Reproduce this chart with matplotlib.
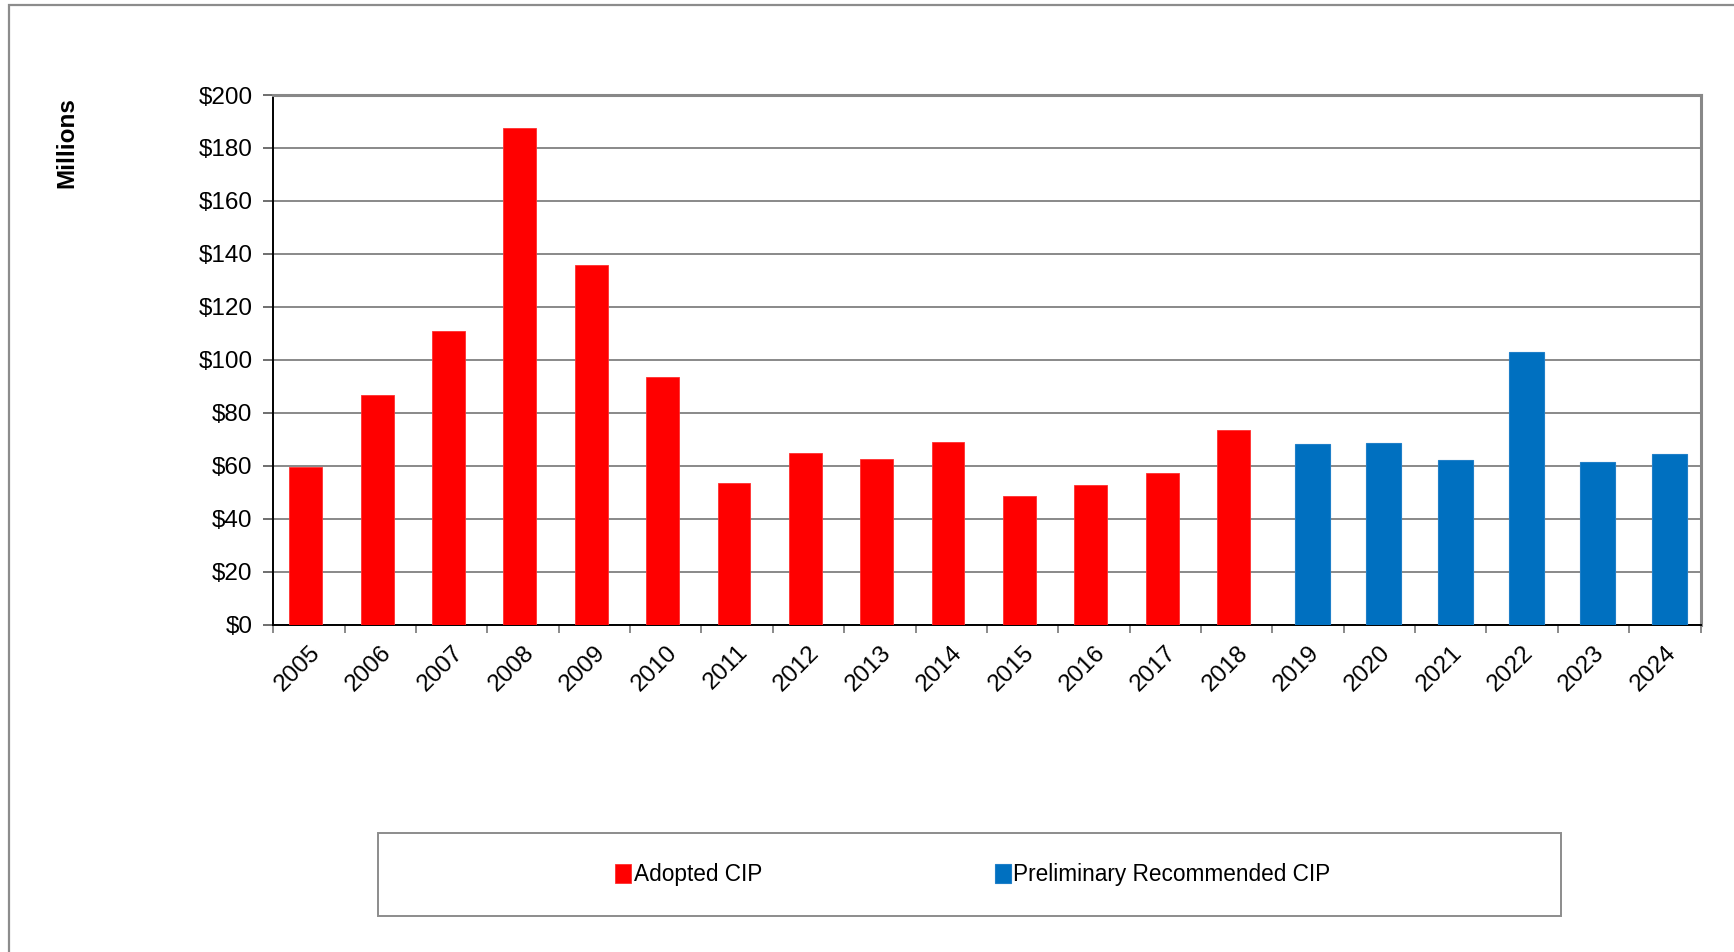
import matplotlib.pyplot as plt
import matplotlib.patches as mpatches
import numpy as np

plt.rcParams['font.family'] = ['Liberation Sans', 'DejaVu Sans']

adopted_years = ['2005', '2006', '2007', '2008', '2009', '2010', '2011',
                 '2012', '2013', '2014', '2015', '2016', '2017', '2018']
adopted_values = [59.5, 86.8, 111.0, 187.5, 135.7, 93.5, 53.5,
                  64.7, 62.6, 68.9, 48.5, 52.6, 57.2, 73.7]
prelim_years = ['2019', '2020', '2021', '2022', '2023', '2024']
prelim_values = [68.3, 68.7, 62.0, 103.1, 61.5, 64.4]

years = adopted_years + prelim_years
x_adopted = np.arange(len(adopted_years))
x_prelim = np.arange(len(adopted_years), len(years))

fig = plt.figure(figsize=(17.34, 9.52), dpi=100)
ax = fig.add_axes([0.1576, 0.3438, 0.8231, 0.5564])

# outer chart frame
fig.patches.append(mpatches.Rectangle(
    (9 / 1734, -0.1), 1.2, 1 - 5 / 952 + 0.1, transform=fig.transFigure,
    fill=False, edgecolor='#8c8c8c', linewidth=1.6, zorder=0))

ax.yaxis.grid(True, color='#808080', linewidth=1.3, zorder=0)
ax.set_axisbelow(True)

# two series sit slightly off-centre, as in a clustered chart
red = ax.bar(x_adopted - 0.045, adopted_values, width=0.46,
             color='#ff0000', edgecolor='#ff3030', linewidth=0.6, zorder=3)
blue = ax.bar(x_prelim + 0.06, prelim_values, width=0.49, color='#0070c0',
              edgecolor='#1f7fc8', linewidth=0.8, zorder=3)

ax.set_xlim(-0.5, len(years) - 0.5)
ax.set_ylim(0, 200)
ax.set_yticks(np.arange(0, 201, 20))
ax.set_yticklabels([f'${v}' for v in range(0, 201, 20)], fontsize=17.5)
ax.tick_params(axis='y', length=7, width=1.2, color='#555555', pad=8)

ax.set_xticks(np.arange(len(years)))
ax.set_xticklabels(years, fontsize=17.5, rotation=45, ha='right', va='top',
                   rotation_mode='anchor')
ax.tick_params(axis='x', which='major', length=0, pad=12)
ax.set_xticks(np.arange(-0.5, len(years)), minor=True)
ax.tick_params(axis='x', which='minor', length=6, width=1.2, color='#777777')

for side in ('top', 'right'):
    ax.spines[side].set_color('#888888')
    ax.spines[side].set_linewidth(2.2)
for side in ('left', 'bottom'):
    ax.spines[side].set_color('#000000')
    ax.spines[side].set_linewidth(1.4)

fig.text(67 / 1734, 1 - 143 / 952, 'Millions', rotation=90, fontsize=17.5,
         fontweight='bold', ha='center', va='center')

# legend box
fig.patches.append(mpatches.Rectangle(
    (378 / 1734, 1 - 916 / 952), (1561 - 378) / 1734, (916 - 833) / 952,
    transform=fig.transFigure, fill=False, edgecolor='#8c8c8c',
    linewidth=1.4))
fig.legend([red, blue], ['Adopted CIP', 'Preliminary Recommended CIP'],
           loc='center', bbox_to_anchor=(973 / 1734, 1 - 875 / 952),
           ncol=2, frameon=False, fontsize=16.3, handlelength=0.7,
           handleheight=0.9, handletextpad=0.1, columnspacing=10.3)

plt.savefig('out.png', dpi=100)
